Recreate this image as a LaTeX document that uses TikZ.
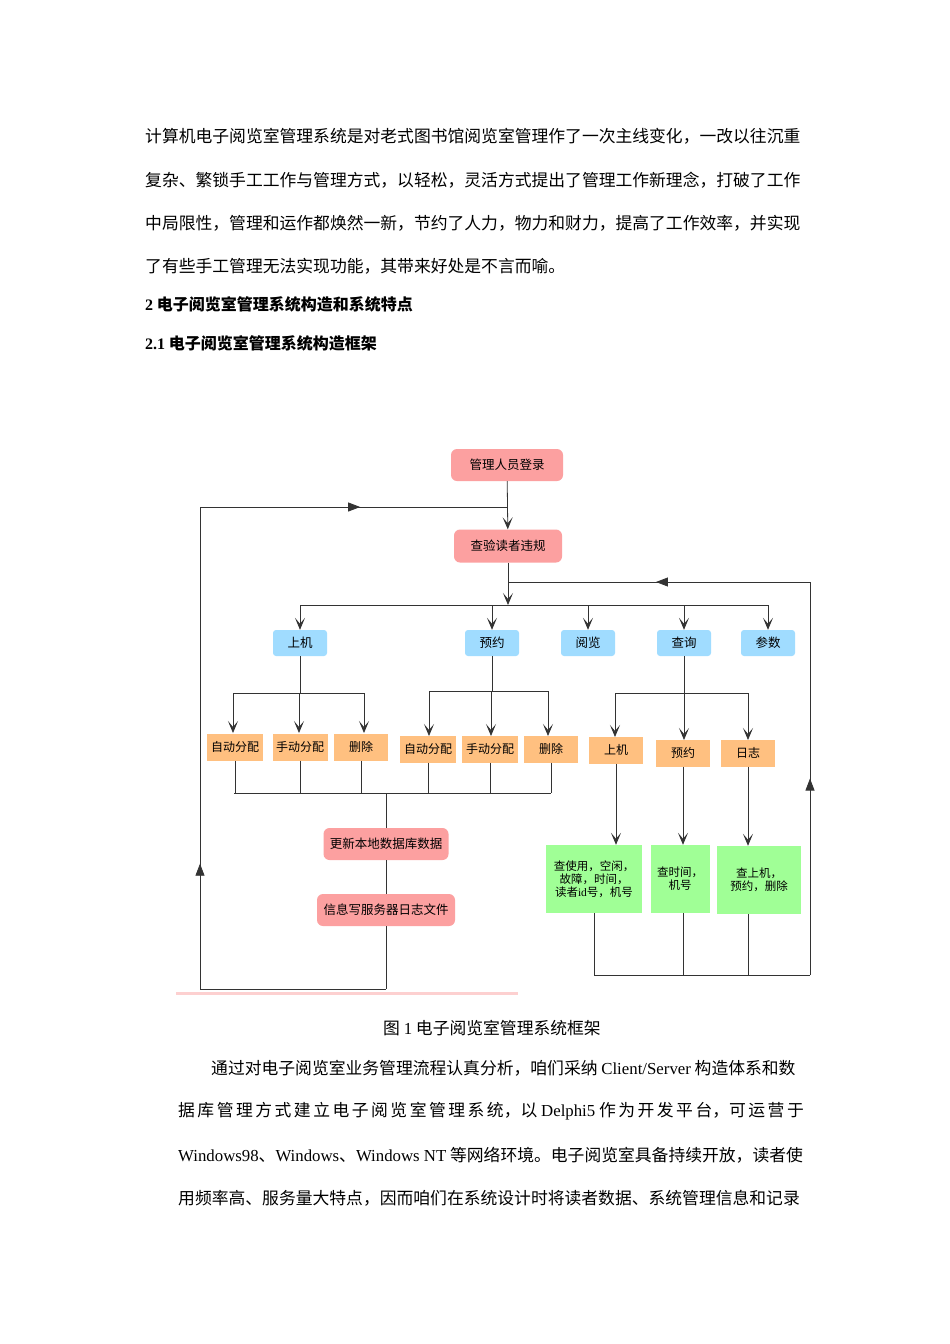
\documentclass[tikz,border=0pt]{standalone}
\usepackage{fontspec}
\setmainfont{Liberation Serif}
\newfontfamily\cjk{Noto Sans CJK SC}
\newcommand{\lat}[1]{{\rmfamily #1}}
\newcommand{\tsp}{\hspace{2.5pt}}
\usetikzlibrary{arrows.meta,decorations.markings}
\definecolor{pinkc}{RGB}{252,160,160}
\definecolor{bluec}{RGB}{160,220,255}
\definecolor{orangec}{RGB}{255,192,128}
\definecolor{greenc}{RGB}{160,255,150}
\tikzset{
  para/.style={anchor=west,inner sep=0pt,font=\cjk\fontsize{16.8}{20}\selectfont},
  head/.style={anchor=west,inner sep=0pt,font=\cjk\bfseries\fontsize{16}{19}\selectfont},
  pinkbox/.style={fill=pinkc,rounded corners=6pt,draw=none,font=\cjk\fontsize{12.5}{14}\selectfont,inner sep=0pt},
  bluebox/.style={fill=bluec,rounded corners=3pt,minimum width=54pt,minimum height=26pt,font=\cjk\fontsize{12.5}{14}\selectfont,inner sep=0pt},
  orangebox/.style={fill=orangec,minimum width=55pt,minimum height=27pt,font=\cjk\fontsize{12}{14}\selectfont,inner sep=0pt},
  greenbox/.style={fill=greenc,font=\cjk\fontsize{11.5}{13}\selectfont,align=center,inner sep=0pt},
  ln/.style={line width=0.8pt,black!80},
  arr/.style={ln,-{Stealth[length=12pt,width=10pt,inset=6pt]}},
  midr/.style={ln,postaction={decorate},decoration={markings,mark=at position #1 with {\arrow{Triangle[length=12pt,width=9pt]}}}},
}
\begin{document}
\begin{tikzpicture}[x=1pt,y=-1pt]
\useasboundingbox[fill=white] (0,0) rectangle (950,1344);
% text
\node[para] (p1) at (145,136) {计算机电子阅览室管理系统是对老式图书馆阅览室管理作了一次主线变化，一改以往沉重};
\node[para] (p2) at (145,180) {复杂、繁锁手工工作与管理方式，以轻松，灵活方式提出了管理工作新理念，打破了工作};
\node[para] (p3) at (145,223) {中局限性，管理和运作都焕然一新，节约了人力，物力和财力，提高了工作效率，并实现};
\node[para] (p4) at (145,266) {了有些手工管理无法实现功能，其带来好处是不言而喻。};
\node[head] (h1) at (145,304) {\lat{\bfseries 2} 电子阅览室管理系统构造和系统特点};
\node[head] (h2) at (145,343) {\lat{\bfseries 2.1} 电子阅览室管理系统构造框架};
\node[para,anchor=center] (cap) at (492,1028) {图 \lat{1} 电子阅览室管理系统框架};
\node[para] (q1) at (211,1068) {通过对电子阅览室业务管理流程认真分析，咱们采纳 \lat{Client/Server} 构造体系和数};
\node[para] (q2) at (178,1111) {据\tsp 库\tsp 管\tsp 理\tsp 方\tsp 式\tsp 建\tsp 立\tsp 电\tsp 子\tsp 阅\tsp 览\tsp 室\tsp 管\tsp 理\tsp 系\tsp 统，以 \lat{Delphi5} 作\tsp 为\tsp 开\tsp 发\tsp 平\tsp 台，可\tsp 运\tsp 营\tsp 于};
\node[para] (q3) at (178,1155) {\lat{Windows98}、\lat{Windows}、\lat{Windows NT} 等网络环境。电子阅览室具备持续开放，读者使};
\node[para] (q4) at (178,1198) {用频率高、服务量大特点，因而咱们在系统设计时将读者数据、系统管理信息和记录};
% diagram nodes
\node[pinkbox,minimum width=112pt,minimum height=32pt] (login) at (507,465) {管理人员登录};
\node[pinkbox,minimum width=108pt,minimum height=33pt] (check) at (508,546) {查验读者违规};
\node[bluebox] (b1) at (300,643) {上机};
\node[bluebox] (b2) at (492,643) {预约};
\node[bluebox] (b3) at (588,643) {阅览};
\node[bluebox] (b4) at (684,643) {查询};
\node[bluebox] (b5) at (768,643) {参数};
\node[orangebox,minimum width=56pt] (o1) at (235,747) {自动分配};
\node[orangebox] (o2) at (300,747) {手动分配};
\node[orangebox,minimum width=54pt] (o3) at (361,747) {删除};
\node[orangebox,minimum width=56pt] (o4) at (428,749) {自动分配};
\node[orangebox,minimum width=56pt] (o5) at (490,749) {手动分配};
\node[orangebox,minimum width=54pt] (o6) at (551,749) {删除};
\node[orangebox,minimum width=54pt] (o7) at (616,750) {上机};
\node[orangebox,minimum width=54pt] (o8) at (683,753) {预约};
\node[orangebox,minimum width=54pt] (o9) at (748,753) {日志};
\node[pinkbox,minimum width=125pt,minimum height=32pt] (upd) at (386,844) {更新本地数据库数据};
\node[pinkbox,minimum width=138pt,minimum height=32pt] (info) at (386,910) {信息写服务器日志文件};
\node[greenbox,minimum width=96pt,minimum height=68pt] (g1) at (594,879) {查使用，空闲，\\故障，时间，\\读者\lat{id}号，机号};
\node[greenbox,minimum width=59pt,minimum height=68pt] (g2) at (680,879) {查时间，\\机号};
\node[greenbox,minimum width=84pt,minimum height=68pt] (g3) at (759,880) {查上机，\\预约，删除};
% coordinates
\coordinate (lA) at (508,507);
\coordinate (lB) at (200,507);
\coordinate (lC) at (200,989);
\coordinate (lD) at (386,989);
\coordinate (rA) at (508,582);
\coordinate (rB) at (810,582);
\coordinate (rC) at (810,975);
\coordinate (rD) at (594,975);
\coordinate (bus) at (508,605);
% connectors
\draw[arr] (login) -- (check);
\draw[midr=0.26] (lC) -- (lB);
\draw[midr=0.52] (lB) -- (lA);
\draw[ln] (lC) -- (lD);
\draw[arr] (check) -- (bus);
\draw[ln] (rD) -- (rC);
\draw[midr=0.50] (rC) -- (rB);
\draw[midr=0.51] (rB) -- (rA);
\draw[ln] (300,605) -- (768,605);
\foreach \n in {b1,b2,b3,b4,b5}{\draw[arr] (\n.north |- bus) -- (\n.north);}
\draw[ln] (b1) -- (300,693);
\draw[ln] (233,693) -- (365,693);
\foreach \x in {233,299,364}{\draw[arr] (\x,693) -- (\x,733);}
\draw[ln] (b2) -- (492,691);
\draw[ln] (429,691) -- (548,691);
\foreach \x in {429,491,548}{\draw[arr] (\x,691) -- (\x,736);}
\draw[ln] (b4) -- (684,693);
\draw[ln] (615,693) -- (748,693);
\foreach \x/\y in {615/737,684/740,748/740}{\draw[arr] (\x,693) -- (\x,\y);}
\draw[ln] (234,793) -- (551,793);
\foreach \n in {o1,o2,o3,o4,o5,o6}{\draw[ln] (\n.south) -- (\n.south |- 0,793);}
\draw[ln] (386,793) -- (upd);
\draw[ln] (upd) -- (info);
\draw[ln] (info) -- (lD);
\draw[arr] (o7) -- (g1.north -| o7);
\draw[arr] (o8) -- (g2.north -| o8);
\draw[arr] (o9) -- (g3.north -| o9);
\draw[ln] (g1.south) -- (rD);
\draw[ln] (g2.south -| o8) -- (683,975);
\draw[ln] (g3.south -| o9) -- (748,975);
\draw[line width=3pt,pinkc!50] (176,993) -- (518,993);
\end{tikzpicture}
\end{document}
